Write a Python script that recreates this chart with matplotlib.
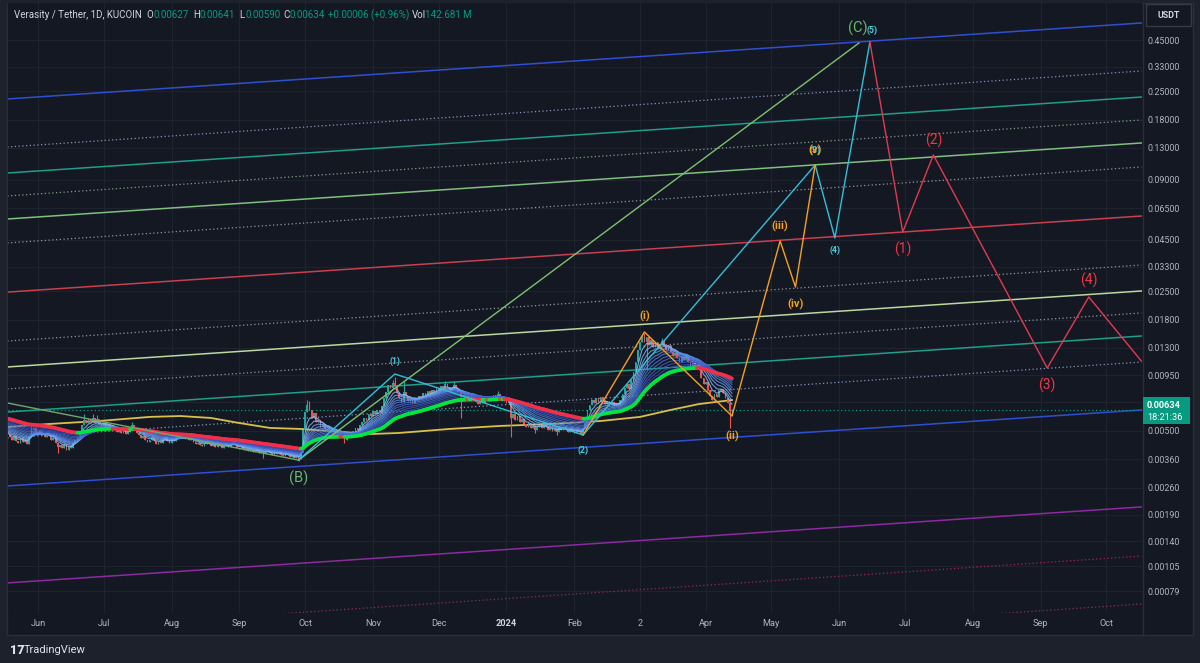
import numpy as np
import pandas as pd
import matplotlib
matplotlib.use("Agg")
import matplotlib.pyplot as plt
import matplotlib.dates as mdates
from matplotlib.collections import LineCollection
from matplotlib.patches import Rectangle
from matplotlib.colors import LinearSegmentedColormap
from matplotlib.ticker import NullLocator, FixedLocator

plt.rcParams['font.family'] = ['Roboto', 'DejaVu Sans']

# ---------------- data ----------------
start_date = "2023-05-18"
first_open = 0.00475
closes = [
    0.00482, 0.00466, 0.00450, 0.00471, 0.00445, 0.00435, 0.00461, 0.00440, 0.00450, 0.00430,
    0.00471, 0.00505, 0.00517, 0.00494, 0.00482, 0.00499, 0.00477, 0.00466, 0.00488, 0.00471,
    0.00450, 0.00461, 0.00435, 0.00415, 0.00425, 0.00411, 0.00430, 0.00401, 0.00420, 0.00411,
    0.00435, 0.00450, 0.00471, 0.00494, 0.00535, 0.00567, 0.00547, 0.00573, 0.00554, 0.00580,
    0.00547, 0.00573, 0.00541, 0.00529, 0.00547, 0.00529, 0.00541, 0.00517, 0.00523, 0.00505,
    0.00494, 0.00511, 0.00488, 0.00499, 0.00482, 0.00494, 0.00505, 0.00535, 0.00511, 0.00488,
    0.00477, 0.00461, 0.00471, 0.00450, 0.00440, 0.00450, 0.00461, 0.00445, 0.00430, 0.00440,
    0.00435, 0.00450, 0.00466, 0.00445, 0.00435, 0.00455, 0.00445, 0.00466, 0.00477, 0.00461,
    0.00471, 0.00455, 0.00466, 0.00450, 0.00461, 0.00440, 0.00430, 0.00435, 0.00425, 0.00420,
    0.00430, 0.00445, 0.00430, 0.00420, 0.00425, 0.00415, 0.00430, 0.00420, 0.00411, 0.00420,
    0.00430, 0.00415, 0.00425, 0.00445, 0.00425, 0.00411, 0.00406, 0.00415, 0.00401, 0.00406,
    0.00397, 0.00401, 0.00392, 0.00397, 0.00401, 0.00388, 0.00392, 0.00383, 0.00392, 0.00397,
    0.00388, 0.00379, 0.00388, 0.00383, 0.00392, 0.00379, 0.00375, 0.00383, 0.00379, 0.00370,
    0.00375, 0.00366, 0.00370, 0.00362, 0.00392, 0.00505, 0.00621, 0.00673, 0.00636, 0.00580,
    0.00614, 0.00554, 0.00567, 0.00523, 0.00541, 0.00511, 0.00499, 0.00517, 0.00488, 0.00477,
    0.00494, 0.00471, 0.00482, 0.00466, 0.00450, 0.00471, 0.00488, 0.00477, 0.00499, 0.00517,
    0.00505, 0.00535, 0.00554, 0.00580, 0.00567, 0.00607, 0.00593, 0.00628, 0.00607, 0.00636,
    0.00621, 0.00666, 0.00730, 0.00782, 0.00848, 0.00819, 0.00868, 0.00838, 0.00774, 0.00730,
    0.00697, 0.00782, 0.00747, 0.00705, 0.00722, 0.00689, 0.00730, 0.00713, 0.00747, 0.00730,
    0.00774, 0.00756, 0.00791, 0.00765, 0.00801, 0.00782, 0.00819, 0.00801, 0.00838, 0.00819,
    0.00858, 0.00829, 0.00801, 0.00819, 0.00848, 0.00819, 0.00782, 0.00739, 0.00756, 0.00730,
    0.00747, 0.00713, 0.00739, 0.00722, 0.00697, 0.00681, 0.00713, 0.00689, 0.00722, 0.00739,
    0.00713, 0.00739, 0.00756, 0.00730, 0.00765, 0.00739, 0.00705, 0.00722, 0.00689, 0.00705,
    0.00580, 0.00607, 0.00567, 0.00593, 0.00554, 0.00573, 0.00541, 0.00523, 0.00547, 0.00517,
    0.00529, 0.00505, 0.00523, 0.00535, 0.00517, 0.00541, 0.00523, 0.00505, 0.00517, 0.00499,
    0.00511, 0.00494, 0.00517, 0.00505, 0.00523, 0.00505, 0.00494, 0.00511, 0.00499, 0.00488,
    0.00505, 0.00494, 0.00482, 0.00517, 0.00580, 0.00636, 0.00673, 0.00713, 0.00689, 0.00730,
    0.00697, 0.00739, 0.00713, 0.00681, 0.00705, 0.00673, 0.00697, 0.00666, 0.00689, 0.00673,
    0.00713, 0.00765, 0.00819, 0.00858, 0.00810, 0.00898, 0.00985, 0.01105, 0.01268, 0.01391,
    0.01490, 0.01391, 0.01473, 0.01343, 0.01423, 0.01313, 0.01391, 0.01283, 0.01359, 0.01407,
    0.01328, 0.01268, 0.01343, 0.01240, 0.01184, 0.01225, 0.01157, 0.01105, 0.01170, 0.01131,
    0.01197, 0.01105, 0.01055, 0.01092, 0.01031, 0.01067, 0.01008, 0.00919, 0.00858, 0.00878,
    0.00801, 0.00747, 0.00713, 0.00765, 0.00739, 0.00791, 0.00810, 0.00774, 0.00730, 0.00689,
    0.00627, 0.00634,
]
wick_high = {
    "2023-05-29": 0.00535, "2023-06-22": 0.00607, "2023-06-26": 0.00607, "2023-06-28": 0.00600,
    "2023-07-14": 0.00554, "2023-10-02": 0.00713, "2023-10-03": 0.00705, "2023-11-10": 0.00898,
    "2023-11-11": 0.00930, "2023-11-15": 0.00888, "2023-12-04": 0.00888, "2023-12-08": 0.00888,
    "2023-12-28": 0.00791, "2024-03-03": 0.01524, "2024-03-04": 0.01541, "2024-03-12": 0.01456,
    "2024-04-13": 0.00641,
}
wick_low = {
    "2023-06-10": 0.00388, "2023-09-12": 0.00366, "2023-09-28": 0.00354, "2023-10-19": 0.00435,
    "2023-12-11": 0.00580, "2024-01-03": 0.00466, "2024-01-14": 0.00488, "2024-01-24": 0.00477,
    "2024-02-04": 0.00477, "2024-03-05": 0.01008, "2024-04-12": 0.00517, "2024-04-13": 0.00590,
}

# slow moving average (yellow)
yellow_dates = ["2023-05-18", "2023-06-06", "2023-06-29", "2023-07-22", "2023-08-05", "2023-08-19",
                "2023-09-01", "2023-09-15", "2023-09-29", "2023-10-12", "2023-10-31", "2023-11-13",
                "2023-12-06", "2023-12-29", "2024-01-21", "2024-02-13", "2024-03-02", "2024-03-16",
                "2024-03-29", "2024-04-13"]
yellow_vals = [0.00523, 0.00541, 0.00560, 0.00587, 0.00593, 0.00580, 0.00547, 0.00517, 0.00511,
               0.00499, 0.00482, 0.00488, 0.00511, 0.00529, 0.00541, 0.00560, 0.00587, 0.00636,
               0.00681, 0.00713]

# EMA ribbon (spans and values at the left edge of the chart)
ribbon_spans = [5, 8, 11, 14, 17, 20, 24, 28, 33, 38, 44, 50]
ribbon_seeds = [0.00490, 0.00497, 0.00505, 0.00512, 0.00520, 0.00527, 0.00535, 0.00543,
                0.00551, 0.00558, 0.00566, 0.00573]
slow_span = 55
slow_seed = 0.00580

# parallel channel lines: price at left and right edge dates
channel_dates = ["2023-05-18", "2024-10-17"]
channel_left = [0.2282, 0.1313, 0.0973, 0.0747, 0.0573, 0.0435, 0.0247, 0.01406, 0.01043,
                0.00810, 0.00621, 0.004604, 0.002650, 0.000868, 0.000493, 0.000284]
channel_right = [0.5474, 0.3150, 0.2334, 0.1792, 0.1375, 0.1043, 0.0593, 0.03373, 0.02502,
                 0.01943, 0.01490, 0.01104, 0.006357, 0.002082, 0.001183, 0.000681]
channel_colors = ['#2f4fd0', '#8595bf', '#1f9e89', '#7e9f86', '#7fbf7f', '#9096a3', '#c8404e',
                  '#9096a3', '#b9d99e', '#9096a3', '#1f9e89', '#8595bf', '#2f4fd0', '#8c2aa0',
                  '#9c2858', '#9c2858']
channel_styles = ['-', ':', '-', ':', '-', ':', '-', ':', '-', ':', '-', ':', '-', '-', ':', ':']

# Elliott wave drawings
green_ab_dates = ["2023-05-18", "2023-09-28"]
green_ab_prices = [0.00689, 0.00357]
green_bc_dates = ["2023-09-28", "2024-06-10"]
green_bc_prices = [0.00357, 0.4346]
green_labels = ["(B)", "(C)"]

cyan_dates = ["2023-09-28", "2023-11-11", "2024-02-05", "2024-05-21", "2024-05-30", "2024-06-15"]
cyan_prices = [0.00357, 0.00962, 0.004768, 0.1067, 0.04604, 0.4397]
cyan_labels = [None, "(1)", "(2)", "(3)", "(4)", "(5)"]

orange_dates = ["2024-02-05", "2024-03-04", "2024-04-13", "2024-05-05", "2024-05-12", "2024-05-21"]
orange_prices = [0.004768, 0.01561, 0.005933, 0.04447, 0.02619, 0.1067]
orange_labels = [None, "(i)", "(ii)", "(iii)", "(iv)", "(v)"]

red_dates = ["2024-06-15", "2024-06-30", "2024-07-14", "2024-09-04", "2024-09-23", "2024-10-17"]
red_prices = [0.4397, 0.04934, 0.1198, 0.01031, 0.02335, 0.01117]
red_labels = [None, "(1)", "(2)", "(3)", "(4)", None]

ytick_vals = [0.45, 0.33, 0.25, 0.18, 0.13, 0.09, 0.065, 0.045, 0.033, 0.025, 0.018, 0.013,
              0.0095, 0.007, 0.005, 0.0036, 0.0026, 0.0019, 0.0014, 0.00105, 0.00079]
xtick_dates = ["2023-06-01", "2023-07-01", "2023-08-01", "2023-09-01", "2023-10-01", "2023-11-01",
               "2023-12-01", "2024-01-01", "2024-02-01", "2024-03-02", "2024-04-01", "2024-05-01",
               "2024-06-01", "2024-07-01", "2024-08-01", "2024-09-01", "2024-10-01"]
xtick_labels = ["Jun", "Jul", "Aug", "Sep", "Oct", "Nov", "Dec", "2024", "Feb", "2", "Apr", "May",
                "Jun", "Jul", "Aug", "Sep", "Oct"]

header_info = ["Verasity / Tether, 1D, KUCOIN", "O", "0.00627", "H", "0.00641", "L", "0.00590",
               "C", "0.00634", "+0.00006 (+0.96%)", "Vol", "142.681 M"]
last_price_text = "0.00634"
countdown_text = "18:21:36"

# ---------------- figure ----------------
W, H = 1200, 663
PANE = '#141823'
OUTER = '#1d212c'
GRID = '#1f2330'
TXT = '#b2b5be'
UP = '#26a69a'
DN = '#ef5350'

fig = plt.figure(figsize=(W / 100, H / 100), dpi=100, facecolor=OUTER)
bg = Rectangle((7, H - 635), 1186, 632, transform=None, facecolor=PANE,
               edgecolor='#2a2e39', lw=1, zorder=-10)
fig.patches.append(bg)

ax = fig.add_axes([8 / W, 1 - 613 / H, 1134 / W, 610 / H])
ax.set_facecolor(PANE)
ax.set_yscale('log')
d0 = mdates.date2num(pd.Timestamp("2023-06-01"))
ax.set_xlim(d0 - 13.7, d0 + 504.3)
ax.set_ylim(0.000614, 0.689)

dates = pd.date_range(start_date, periods=len(closes), freq='D')
xs = mdates.date2num(dates)
c = np.array(closes)
o = np.concatenate([[first_open], c[:-1]])
hi = np.maximum(o, c)
lo = np.minimum(o, c)
keys = [d.strftime("%Y-%m-%d") for d in dates]
for i, k in enumerate(keys):
    if k in wick_high:
        hi[i] = max(hi[i], wick_high[k])
    if k in wick_low:
        lo[i] = min(lo[i], wick_low[k])

# grid
for xd in xtick_dates:
    ax.axvline(mdates.date2num(pd.Timestamp(xd)), color=GRID, lw=0.8, zorder=0)
for yv in ytick_vals:
    ax.axhline(yv, color=GRID, lw=0.8, zorder=0)

# channel lines
cx = mdates.date2num(pd.to_datetime(channel_dates))
for lp, rp, col, st in zip(channel_left, channel_right, channel_colors, channel_styles):
    if st == ':':
        ax.plot(cx, [lp, rp], color=col, lw=0.9, ls=(0, (1, 2)), zorder=1)
    else:
        ax.plot(cx, [lp, rp], color=col, lw=1.1, zorder=1)

# current price dotted line
ax.axhline(closes[-1], color='#089981', lw=0.9, ls=(0, (1, 2)), zorder=1)

# yellow MA
ax.plot(mdates.date2num(pd.to_datetime(yellow_dates)), yellow_vals, color='#d8c04a', lw=1.3, zorder=2)

# candles
up = c >= o
ax.vlines(xs, lo, hi, colors=np.where(up, UP, DN), lw=0.8, zorder=3)
ax.bar(xs, np.maximum(np.abs(c - o), c * 0.003), bottom=np.minimum(o, c), width=0.75,
       color=np.where(up, UP, DN), linewidth=0, zorder=3)


def ema_seeded(vals, span, seed):
    a = 2.0 / (span + 1)
    e = seed
    out = []
    for v in vals:
        e = a * v + (1 - a) * e
        out.append(e)
    return np.array(out)


cmap = LinearSegmentedColormap.from_list('rib', ['#8cc4ff', '#4f7fe8', '#3440b4'])
n = len(ribbon_spans)
for j, (sp, sd) in enumerate(zip(ribbon_spans, ribbon_seeds)):
    e = ema_seeded(c, sp, sd)
    ax.plot(xs, e, color=cmap(j / (n - 1)), lw=0.8, alpha=0.8, zorder=4)

slow = ema_seeded(c, slow_span, slow_seed)
segs = [[(xs[i], slow[i]), (xs[i + 1], slow[i + 1])] for i in range(len(xs) - 1)]
cols = ['#00e640' if slow[i + 1] >= slow[i] else '#f0304a' for i in range(len(xs) - 1)]
ax.add_collection(LineCollection(segs, colors=cols, linewidths=2.6, zorder=5, capstyle='round'))

# wave lines & labels
def draw_wave(dts, prices, color, lw=1.0):
    ax.plot(mdates.date2num(pd.to_datetime(dts)), prices, color=color, lw=lw, zorder=6)


def put_label(dt, price, text, color, dy, size, weight='normal', dx=0):
    ax.annotate(text, (mdates.date2num(pd.Timestamp(dt)), price), xytext=(dx, dy),
                textcoords='offset pixels', ha='center', va='center', color=color,
                fontsize=size, fontweight=weight, zorder=8, annotation_clip=False)


draw_wave(green_ab_dates, green_ab_prices, '#6fa86a')
draw_wave(green_bc_dates, green_bc_prices, '#7cc26f')
draw_wave(cyan_dates, cyan_prices, '#33bfd8')
draw_wave(orange_dates, orange_prices, '#f5a020')
draw_wave(red_dates, red_prices, '#e23a50')

put_label(green_bc_dates[0], green_bc_prices[0], green_labels[0], '#66bb6a', -18, 10.5)
put_label(green_bc_dates[1], green_bc_prices[1], green_labels[1], '#66bb6a', 15, 10.5, dx=-1)

cyan_dy = [0, 13, -15, 15, -12, 12]
for dt, pr, lb, dy in zip(cyan_dates, cyan_prices, cyan_labels, cyan_dy):
    if lb:
        put_label(dt, pr, lb, '#4dd0e1', dy, 6.2, 'bold', dx=2 if lb == "(5)" else 0)

orange_dy = [0, 16, -20, 15, -17, 15]
for dt, pr, lb, dy in zip(orange_dates, orange_prices, orange_labels, orange_dy):
    if lb:
        put_label(dt, pr, lb, '#f7a21b', dy, 8, 'bold')

red_dy = [0, -17, 15, -17, 17, 0]
for dt, pr, lb, dy in zip(red_dates, red_prices, red_labels, red_dy):
    if lb:
        put_label(dt, pr, lb, '#f23645', dy, 10)

# axes styling
for s in ax.spines.values():
    s.set_visible(False)
ax.yaxis.tick_right()
ax.yaxis.set_major_locator(FixedLocator(ytick_vals))
ax.yaxis.set_minor_locator(NullLocator())
ax.set_yticklabels(["%.5f" % v for v in ytick_vals])
ax.set_xticks(mdates.date2num(pd.to_datetime(xtick_dates)))
ax.set_xticklabels(xtick_labels)
ax.tick_params(axis='y', length=0, pad=4, labelsize=6.4, labelcolor=TXT)
ax.tick_params(axis='x', length=0, pad=4.5, labelsize=6.6, labelcolor=TXT)
for lbl in ax.get_xticklabels():
    if lbl.get_text() == "2024":
        lbl.set_color('#d1d4dc')
        lbl.set_fontweight('bold')

# price-scale separator
fig.add_artist(plt.Line2D([1142.5, 1142.5], [H - 635, H - 3], transform=None, color='#2a2e39', lw=1))

# current price box
fig.canvas.draw()
ydisp = ax.transData.transform((ax.get_xlim()[0], closes[-1]))[1]
fig.patches.append(Rectangle((1143, ydisp - 14), 47, 27, transform=None, facecolor='#089981',
                             edgecolor='none', zorder=10))
fig.text(1147 / W, (ydisp + 5) / H, last_price_text, color='white', fontsize=6.6,
         fontweight='bold', va='center', ha='left', zorder=11)
fig.text(1147 / W, (ydisp - 7) / H, countdown_text, color='white', fontsize=6.6,
         va='center', ha='left', zorder=11)

# USDT box
fig.patches.append(Rectangle((1146, H - 26), 45, 22, transform=None, facecolor=PANE,
                             edgecolor='#363a45', lw=1, zorder=10))
fig.text(1168.5 / W, 1 - 15 / H, "USDT", color='#d1d4dc', fontsize=6.4, fontweight='bold',
         ha='center', va='center', zorder=11)

# header
hx = [14, 146, 153, 193, 200, 239, 245, 283, 290, 328, 412, 425]
hcol = ['#d1d4dc', '#d1d4dc', '#089981', '#d1d4dc', '#089981', '#d1d4dc', '#089981',
        '#d1d4dc', '#089981', '#089981', '#d1d4dc', '#089981']
for x, t, col in zip(hx, header_info, hcol):
    fig.text(x / W, 1 - 15 / H, t, color=col, fontsize=7, ha='left', va='center')

# TradingView logo
fig.text(10 / W, 1 - 650 / H, "17", color='#e0e3eb', fontsize=9, fontweight='black',
         ha='left', va='center')
fig.text(24 / W, 1 - 650 / H, "TradingView", color='#e0e3eb', fontsize=8, ha='left', va='center')

fig.savefig("out.png", dpi=100, facecolor=OUTER)
